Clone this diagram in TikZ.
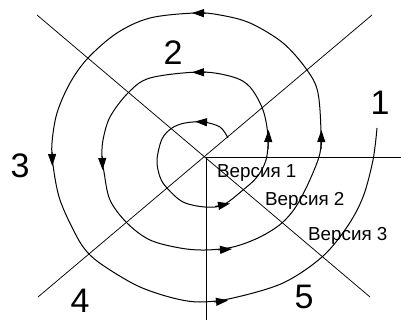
\documentclass[tikz,border=0pt]{standalone}
\usepackage{fontspec}
\setmainfont{Liberation Sans}
\usetikzlibrary{arrows.meta}
\begin{document}
\begin{tikzpicture}[x=1pt,y=-1pt,
  axis/.style={line width=0.75pt},
  spiral/.style={line width=1pt},
  arr/.style={line width=1pt,-{Triangle[length=12pt,width=8pt]}},
  bignum/.style={anchor=base,inner sep=0pt,font=\fontsize{34}{34}\selectfont},
  ver/.style={anchor=base west,inner sep=0pt,font=\fontsize{18.8}{19}\selectfont}]
\useasboundingbox (0,0) rectangle (401,320);
% axes
\coordinate (c) at (206,157);
\coordinate (e) at (401,157);
\coordinate (s) at (206,320);
\coordinate (nw) at (37,15);
\coordinate (se) at (370,297);
\coordinate (sw) at (38,297);
\coordinate (ne) at (372,15);
\draw[axis] (c) -- (e);
\draw[axis] (c) -- (s);
\draw[axis] (nw) -- (se);
\draw[axis] (sw) -- (ne);
% spiral
\draw[spiral] plot[smooth,tension=0.55] coordinates {
 (228,138) (220,127) (203,122) (185,123) (172,128) (162,139) (157,160)
 (160,177) (167,188) (183,202) (205,207) (223,205) (243,190) (257,177)
 (266,160) (268,137) (263,110) (250,87) (233,77) (200,72) (150,78)
 (128,93) (110,117) (103,140) (102,157) (104,172) (110,200) (127,223)
 (150,240) (180,248) (205,250) (233,247) (260,237) (283,222) (300,200)
 (318,160) (321,137) (318,93) (307,70) (283,43) (250,23) (220,15)
 (195,13) (150,18) (117,33) (88,58) (70,83) (57,113) (52,143) (53,165)
 (60,200) (77,237) (90,255) (110,270) (140,287) (173,298) (200,302)
 (233,298) (283,283) (322,257) (347,227) (363,197) (373,160) (377,128)};
% arrowheads
\draw[arr] (208,122.3) -- (195,121.5);
\draw[arr] (206,72.2) -- (192,72.4);
\draw[arr] (206,13.2) -- (192,13);
\draw[arr] (52,152) -- (52.3,166);
\draw[arr] (102.2,156) -- (102.6,170);
\draw[arr] (215,206.5) -- (230,203.5);
\draw[arr] (218,250) -- (232,249);
\draw[arr] (214,302) -- (228,300.5);
\draw[arr] (268,149) -- (268.6,130);
\draw[arr] (321.2,149) -- (321.4,130);
% labels
\node[bignum] (n1) at (380,115) {1};
\node[bignum] (n2) at (173,65) {2};
\node[bignum] (n3) at (20,178) {3};
\node[bignum] (n4) at (80,312) {4};
\node[bignum] (n5) at (304,308) {5};
\node[ver] (v1) at (217,178) {Версия 1};
\node[ver] (v2) at (265,205.5) {Версия 2};
\node[ver] (v3) at (308,240.5) {Версия 3};
\end{tikzpicture}
\end{document}
